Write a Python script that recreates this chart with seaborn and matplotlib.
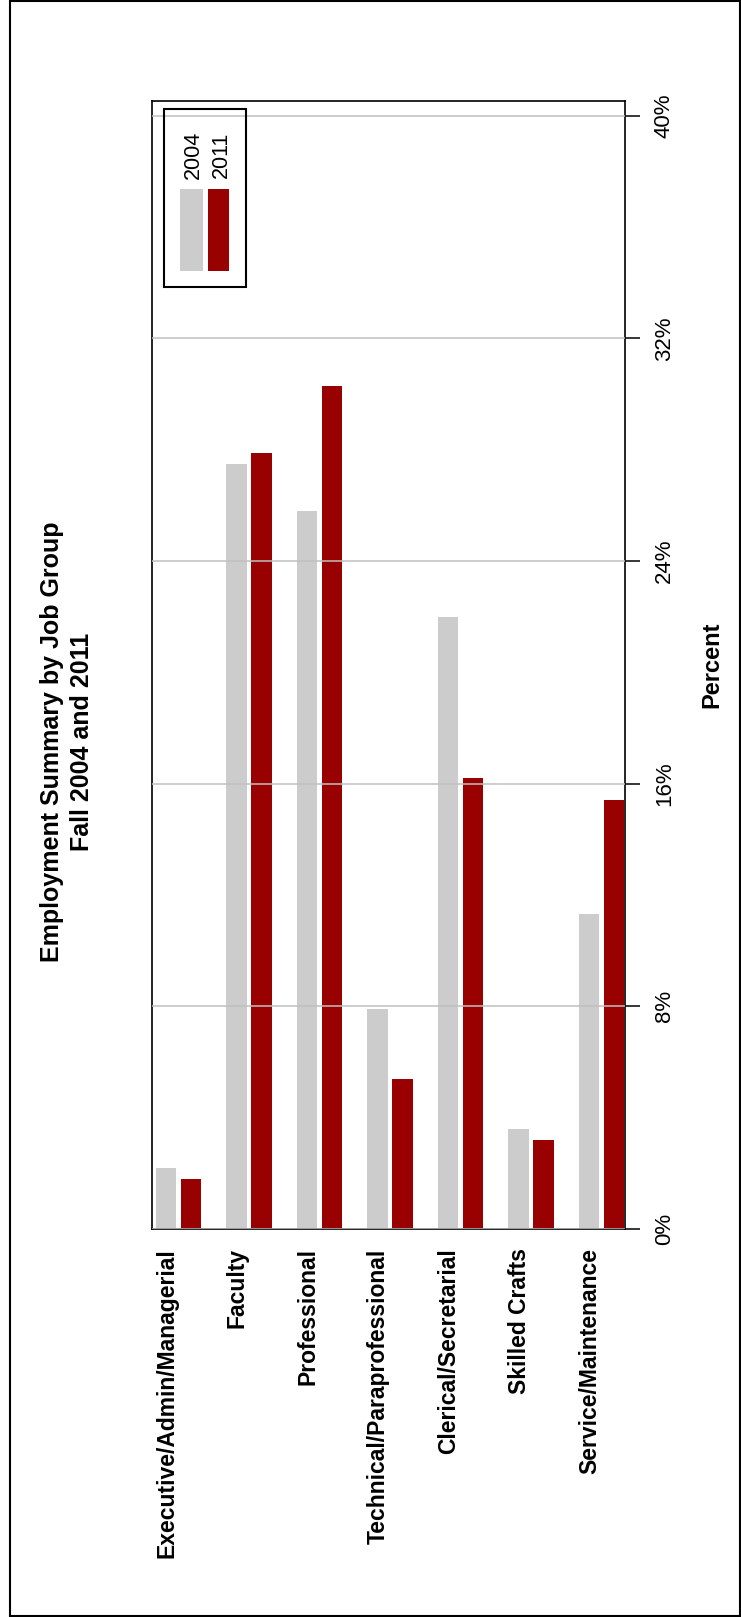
import pandas as pd
import matplotlib.pyplot as plt
import seaborn as sns
from matplotlib.patches import Rectangle
from matplotlib.ticker import FuncFormatter
from matplotlib.transforms import ScaledTranslation

# data
groups = ["Executive/Admin/Managerial", "Faculty", "Professional",
          "Technical/Paraprofessional", "Clerical/Secretarial",
          "Skilled Crafts", "Service/Maintenance"]
years = ["2004", "2011"]
pct_2004 = [2.2, 27.5, 25.8, 7.9, 22.0, 3.6, 11.3]
pct_2011 = [1.8, 27.9, 30.3, 5.4, 16.2, 3.2, 15.4]
yticks = [0, 8, 16, 24, 32, 40]
colors = ["#cccccc", "#990000"]

df = pd.DataFrame({
    "group": groups * 2,
    "year": [years[0]] * len(groups) + [years[1]] * len(groups),
    "pct": pct_2004 + pct_2011,
})

sns.set_style("white")
plt.rcParams['font.family'] = ['Liberation Sans', 'DejaVu Sans']
plt.rcParams['text.color'] = 'black'
plt.rcParams['axes.labelcolor'] = 'black'

fig = plt.figure(figsize=(7.41, 16.17), dpi=100)
ax = fig.add_axes([0.2058, 0.2400, 0.6377, 0.6978])

sns.barplot(data=df, x="group", y="pct", hue="year", order=groups, hue_order=years,
            palette=colors, width=0.7, gap=0.17, linewidth=0, saturation=1,
            errorbar=None, legend=False, ax=ax)

ax.set_xlim(-0.369, 6.333)
ax.set_ylim(0, 40.55)

# y axis on the right, rotated labels
ax.yaxis.tick_right()
ax.set_yticks(yticks)
ax.yaxis.set_major_formatter(FuncFormatter(lambda v, p: f"{v:.0f}%"))
ax.tick_params(axis='y', direction='out', length=10.8, width=1.1, pad=10,
               labelsize=16, colors='black', left=False, right=True)
plt.setp(ax.get_yticklabels(), rotation=90, va='center')

ax.tick_params(axis='x', length=0, pad=14, labelsize=16.5, colors='black')
offset = ScaledTranslation(-0.12, 0, fig.dpi_scale_trans)
for lab in ax.get_xticklabels():
    lab.set_rotation(90)
    lab.set_ha('center')
    lab.set_va('top')
    lab.set_fontweight('bold')
    lab.set_transform(lab.get_transform() + offset)

ax.set_xlabel("")
ax.set_ylabel("Percent", fontsize=17, fontweight='bold', rotation=90)
ax.yaxis.set_label_position('right')
ax.yaxis.set_label_coords(1.184, 0.5)
ax.yaxis.label.set_va('center')

ax.yaxis.grid(True, color='#c0c0c0', lw=1.1)
ax.xaxis.grid(False)
ax.set_axisbelow(False)
for s in ax.spines.values():
    s.set_color('black')
    s.set_linewidth(1.2)

# legend, drawn rotated like the rest of the chart
ax.add_patch(Rectangle((0.0243, 0.8351), 0.1742, 0.1578, transform=ax.transAxes,
                       fill=False, edgecolor='black', lw=1.5, zorder=5))
ax.add_patch(Rectangle((0.0582, 0.8493), 0.0487, 0.0724, transform=ax.transAxes,
                       facecolor=colors[0], lw=0, zorder=5))
ax.add_patch(Rectangle((0.1175, 0.8493), 0.0444, 0.0724, transform=ax.transAxes,
                       facecolor=colors[1], lw=0, zorder=5))
ax.text(0.0857, 0.9523, years[0], transform=ax.transAxes, rotation=90,
        ha='center', va='center', fontsize=15.5, zorder=6)
ax.text(0.1465, 0.9523, years[1], transform=ax.transAxes, rotation=90,
        ha='center', va='center', fontsize=15.5, zorder=6)

fig.text(0.0905, 0.5411, "Employment Summary by Job Group\nFall 2004 and 2011",
         rotation=90, ha='center', va='center', multialignment='center',
         fontsize=18, fontweight='bold', linespacing=1.3, color='black')

# outer frame
fig.add_artist(Rectangle((0.0135, 0.0009), 0.9852, 0.9985, transform=fig.transFigure,
                         fill=False, edgecolor='black', lw=1.5))

fig.savefig("out.png", dpi=100)
